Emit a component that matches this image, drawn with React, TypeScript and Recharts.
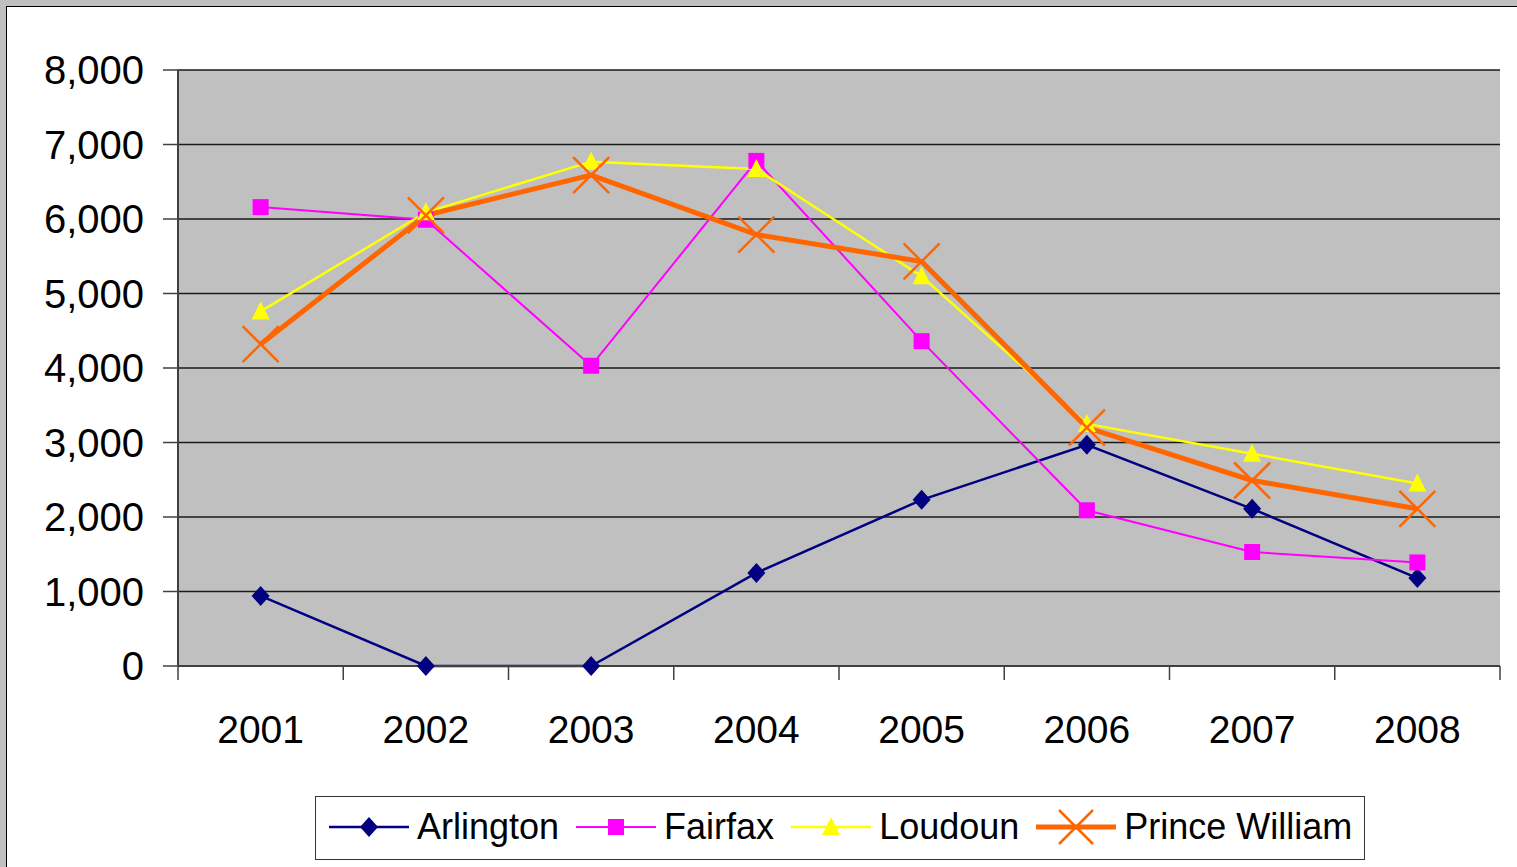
import { LineChart, Line, XAxis, YAxis, CartesianGrid, Legend } from "recharts";

const years = ["2001", "2002", "2003", "2004", "2005", "2006", "2007", "2008"];
const arlington = [940, 0, 0, 1250, 2230, 2970, 2110, 1180];
const fairfax = [6160, 5990, 4030, 6780, 4360, 2090, 1530, 1390];
const loudoun = [4760, 6090, 6770, 6670, 5230, 3250, 2850, 2450];
const princeWilliam = [4320, 6050, 6590, 5790, 5430, 3200, 2490, 2110];
const yTicks = [0, 1000, 2000, 3000, 4000, 5000, 6000, 7000, 8000];

const data = years.map((year, i) => ({
  year,
  Arlington: arlington[i],
  Fairfax: fairfax[i],
  Loudoun: loudoun[i],
  "Prince William": princeWilliam[i],
}));

const FONT = "'Liberation Sans', Arial, sans-serif";
const W = 1517;
const H = 867;
const margin = { top: 70, right: 17, left: 0, bottom: 101 };
const Y_AXIS_W = 178;
const HALF_BAND = (W - margin.left - margin.right - Y_AXIS_W) / years.length / 2;

const NAVY = "#000080";
const MAGENTA = "#ff00ff";
const YELLOW = "#ffff00";
const ORANGE = "#ff6600";

const Diamond = ({ cx, cy, fill }: any) => (
  <polygon points={`${cx},${cy - 10} ${cx + 9},${cy} ${cx},${cy + 10} ${cx - 9},${cy}`} fill={fill} />
);
const Square = ({ cx, cy, fill }: any) => <rect x={cx - 8} y={cy - 8} width={16} height={16} fill={fill} />;
const Triangle = ({ cx, cy, fill }: any) => (
  <polygon points={`${cx},${cy - 10} ${cx + 9},${cy + 8} ${cx - 9},${cy + 8}`} fill={fill} />
);
const Cross = ({ cx, cy, stroke, r = 18, w = 2.5 }: any) => (
  <g stroke={stroke} strokeWidth={w}>
    <line x1={cx - r} y1={cy - r} x2={cx + r} y2={cy + r} />
    <line x1={cx - r} y1={cy + r} x2={cx + r} y2={cy - r} />
  </g>
);

const dotOf = (shape: string, color: string) => (props: any) => {
  const { cx, cy, key } = props;
  if (cx == null || cy == null) return <g key={key} />;
  if (shape === "diamond") return <Diamond key={key} cx={cx} cy={cy} fill={color} />;
  if (shape === "square") return <Square key={key} cx={cx} cy={cy} fill={color} />;
  if (shape === "triangle") return <Triangle key={key} cx={cx} cy={cy} fill={color} />;
  return <Cross key={key} cx={cx} cy={cy} stroke={color} />;
};

const YearTick = ({ x, y, payload, index }: any) => (
  <g>
    <line x1={x - HALF_BAND} y1={y} x2={x - HALF_BAND} y2={y + 14} stroke="#404040" strokeWidth={1.5} />
    {index === years.length - 1 && (
      <line x1={x + HALF_BAND} y1={y} x2={x + HALF_BAND} y2={y + 14} stroke="#404040" strokeWidth={1.5} />
    )}
    <text x={x} y={y + 77} textAnchor="middle" fill="#000" fontSize={39} fontFamily={FONT}>
      {payload.value}
    </text>
  </g>
);

const series = [
  { key: "Arlington", color: NAVY, shape: "diamond", width: 2.5 },
  { key: "Fairfax", color: MAGENTA, shape: "square", width: 2 },
  { key: "Loudoun", color: YELLOW, shape: "triangle", width: 2.5 },
  { key: "Prince William", color: ORANGE, shape: "cross", width: 5 },
];

const LegendIcon = ({ color, shape, width }: any) => (
  <svg width={80} height={40} style={{ display: "block" }}>
    <line x1={0} y1={20} x2={80} y2={20} stroke={color} strokeWidth={width} />
    {shape === "diamond" && <Diamond cx={40} cy={20} fill={color} />}
    {shape === "square" && <Square cx={40} cy={20} fill={color} />}
    {shape === "triangle" && <Triangle cx={40} cy={20} fill={color} />}
    {shape === "cross" && <Cross cx={40} cy={20} stroke={color} r={17} w={2.5} />}
  </svg>
);

const LegendBox = () => (
  <div
    style={{
      boxSizing: "border-box",
      width: 1050,
      height: 64,
      border: "1.5px solid #333",
      background: "#fff",
      display: "flex",
      alignItems: "center",
      paddingLeft: 13,
      paddingBottom: 3,
      fontFamily: FONT,
      fontSize: 36,
      color: "#000",
    }}
  >
    {series.map((s) => (
      <div key={s.key} style={{ display: "flex", alignItems: "center", marginRight: 17 }}>
        <LegendIcon color={s.color} shape={s.shape} width={s.width} />
        <span style={{ marginLeft: 8, whiteSpace: "nowrap" }}>{s.key}</span>
      </div>
    ))}
  </div>
);

export default function App() {
  return (
    <div style={{ position: "fixed", left: 0, top: 0, width: W, height: H, background: "#c0c0c0", overflow: "hidden" }}>
      <div
        style={{
          position: "absolute",
          left: 6,
          top: 6,
          width: W + 50,
          height: H + 50,
          background: "#fff",
          border: "1.5px solid #000",
        }}
      />
      <div style={{ position: "absolute", left: 0, top: 0 }}>
        <LineChart width={W} height={H} data={data} margin={margin}>
          <CartesianGrid vertical={false} fill="#c0c0c0" stroke="#1a1a1a" strokeWidth={1.3} />
          <XAxis
            dataKey="year"
            scale="band"
            height={100}
            tickLine={false}
            tickSize={0}
            tickMargin={0}
            tick={<YearTick />}
            axisLine={{ stroke: "#404040", strokeWidth: 2 }}
            interval={0}
          />
          <XAxis xAxisId="top" orientation="top" dataKey="year" scale="band" height={0} tick={false} tickLine={false} axisLine={{ stroke: "#808080", strokeWidth: 2.5 }} />
          <YAxis
            width={Y_AXIS_W}
            domain={[0, 8000]}
            ticks={yTicks}
            interval={0}
            tickSize={15}
            tickMargin={19}
            tickLine={{ stroke: "#404040", strokeWidth: 1.5 }}
            axisLine={{ stroke: "#404040", strokeWidth: 2 }}
            tickFormatter={(v: number) => v.toLocaleString("en-US")}
            tick={{ fill: "#000", fontSize: 40, fontFamily: FONT }}
          />
          <YAxis yAxisId="right" orientation="right" width={0} domain={[0, 8000]} tick={false} tickLine={false} axisLine={{ stroke: "#808080", strokeWidth: 2.5 }} />
          <Legend
            layout="horizontal"
            verticalAlign="middle"
            align="center"
            wrapperStyle={{ left: 315, top: 796, width: 1050, height: 64 }}
            content={() => <LegendBox />}
          />
          {series.map((s) => (
            <Line
              key={s.key}
              type="linear"
              dataKey={s.key}
              stroke={s.color}
              strokeWidth={s.width}
              dot={dotOf(s.shape, s.color)}
              activeDot={false}
              isAnimationActive={false}
            />
          ))}
        </LineChart>
      </div>
    </div>
  );
}
